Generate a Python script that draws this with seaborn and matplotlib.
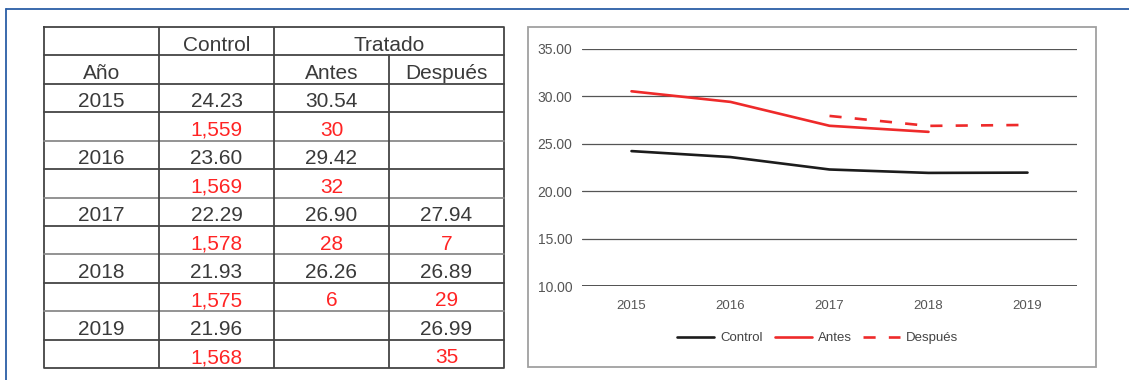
import matplotlib
matplotlib.use("Agg")
import matplotlib.pyplot as plt
from matplotlib.patches import Rectangle
from matplotlib.lines import Line2D
import numpy as np
import pandas as pd
import seaborn as sns

# ---- data ----
years = ["2015", "2016", "2017", "2018", "2019"]
control = [24.23, 23.60, 22.29, 21.93, 21.96]
control_n = [1559, 1569, 1578, 1575, 1568]
antes = [30.54, 29.42, 26.90, 26.26, None]
antes_n = [30, 32, 28, 6, None]
despues = [None, None, 27.94, 26.89, 26.99]
despues_n = [None, None, 7, 29, 35]

series_names = ["Control", "Antes", "Después"]
y_ticks = [10, 15, 20, 25, 30, 35]

sns.set_theme(style="white")
plt.rcParams["font.family"] = ["Liberation Sans", "DejaVu Sans"]

W, H, DPI = 1129, 380, 100
fig = plt.figure(figsize=(W / DPI, H / DPI), dpi=DPI)
fig.patch.set_facecolor("white")


def fx(px):
    return px / W


def fy(py):
    return 1 - py / H


# ---- outer blue frame (top and left edges) ----
blue = "#2b5ea6"
fig.add_artist(Line2D([fx(6), 1.0], [fy(9), fy(9)], color=blue, lw=1.3,
                      transform=fig.transFigure))
fig.add_artist(Line2D([fx(6), fx(6)], [0, fy(9)], color=blue, lw=1.3,
                      transform=fig.transFigure))

# ---- table ----
TXT = "#3a3a3a"
RED = "#ff2424"
tax = fig.add_axes([fx(44), fy(368), fx(504) - fx(44), fy(27) - fy(368)])
tax.set_xlim(0, 4)
tax.set_ylim(12, 0)
tax.axis("off")

dark = "#444444"
light = "#8a8a8a"
lw = 1.3
# outer border
tax.plot([0, 4, 4, 0, 0], [0, 0, 12, 12, 0], color=dark, lw=lw, clip_on=False)
# horizontal rules
for r in range(1, 12):
    c = light if (r >= 3 and r % 2 == 0) else dark
    tax.plot([0, 4], [r, r], color=c, lw=lw, clip_on=False)
# vertical rules
tax.plot([1, 1], [0, 12], color=dark, lw=lw)
tax.plot([2, 2], [0, 12], color=dark, lw=lw)
tax.plot([3, 3], [1, 12], color=dark, lw=lw)

fs = 15


def cell(col, row, s, color=TXT):
    tax.text(col, row + 0.83, s, ha="center", va="baseline", fontsize=fs,
             color=color)


cell(1.5, 0, "Control")
cell(3.0, 0, "Tratado")
cell(0.5, 1, "Año")
cell(2.5, 1, "Antes")
cell(3.5, 1, "Después")
for i, yr in enumerate(years):
    r = 2 + 2 * i
    cell(0.5, r, yr)
    cell(1.5, r, f"{control[i]:.2f}")
    cell(1.5, r + 1, f"{control_n[i]:,}", RED)
    if antes[i] is not None:
        cell(2.5, r, f"{antes[i]:.2f}")
        cell(2.5, r + 1, f"{antes_n[i]}", RED)
    if despues[i] is not None:
        cell(3.5, r, f"{despues[i]:.2f}")
        cell(3.5, r + 1, f"{despues_n[i]}", RED)

# ---- chart frame ----
fig.add_artist(Rectangle((fx(528), fy(367)), fx(1096) - fx(528), fy(27) - fy(367),
                         transform=fig.transFigure, fill=False,
                         edgecolor="#a0a0a0", lw=1.3))

# ---- line chart ----
rows = []
for name, vals in zip(series_names, [control, antes, despues]):
    for yr, v in zip(years, vals):
        if v is not None:
            rows.append({"Año": yr, "valor": v, "serie": name})
df = pd.DataFrame(rows)

ax = fig.add_axes([fx(582), fy(286), fx(1077) - fx(582), fy(49) - fy(286)])
palette = {"Control": "#1c1c1c", "Antes": "#ee2a2a", "Después": "#ee2a2a"}
dashes = {"Control": "", "Antes": "", "Después": (4.6, 5.0)}
sns.lineplot(data=df, x="Año", y="valor", hue="serie", style="serie",
             hue_order=series_names, style_order=series_names,
             palette=palette, dashes=dashes, linewidth=1.9, ax=ax,
             sort=False)

ax.set_xlim(-0.5, 4.5)
ax.set_ylim(10, 35)
ax.set_yticks(y_ticks)
ax.set_yticklabels([f"{t:.2f}" for t in y_ticks])
ax.set_xticks(range(len(years)))
ax.set_xticklabels(years)
ax.set_xlabel("")
ax.set_ylabel("")
for s in ax.spines.values():
    s.set_visible(False)
ax.set_facecolor("none")
for t in y_ticks:
    ax.axhline(t, color="#222222" if t == 10 else "#555555",
               lw=1.1 if t == 10 else 0.9, zorder=0)
ax.tick_params(axis="y", length=0, pad=7, labelsize=10, labelcolor="#555555")
ax.tick_params(axis="x", length=0, pad=10, labelsize=9.5, labelcolor="#555555")

handles, labels = ax.get_legend_handles_labels()
ax.get_legend().remove()
fig.legend(handles, labels, loc="center", bbox_to_anchor=(fx(818), fy(338)),
           ncol=3, frameon=False, fontsize=9.5, handlelength=2.8,
           handletextpad=0.45, columnspacing=0.9, labelcolor="#444444")

fig.savefig("out.png", dpi=DPI, facecolor="white")
